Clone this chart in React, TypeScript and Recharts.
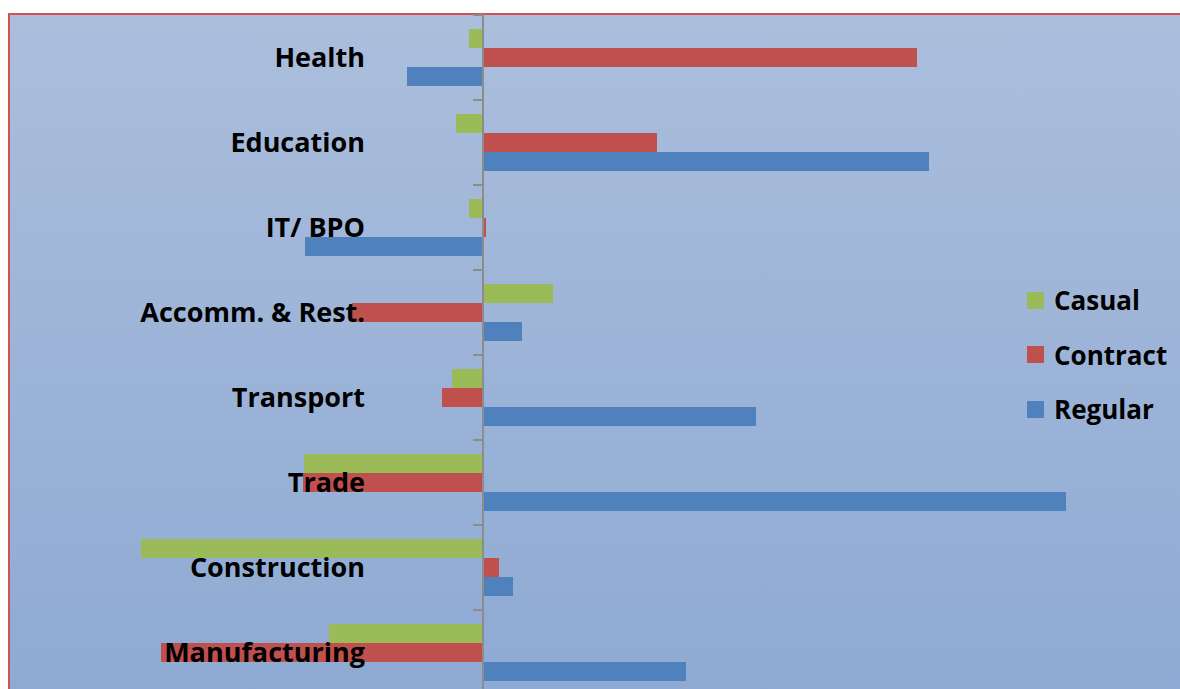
import { BarChart, Bar, XAxis, YAxis, ReferenceLine } from "recharts";

// sectors, top to bottom
const sectors = [
  "Health",
  "Education",
  "IT/ BPO",
  "Accomm. & Rest.",
  "Transport",
  "Trade",
  "Construction",
  "Manufacturing",
];

// values (arbitrary units, 0 at the vertical axis)
const casual = [-1.4, -2.7, -1.4, 7.0, -3.1, -17.9, -34.2, -15.4];
const contract = [43.4, 17.4, 0.3, -13.1, -4.1, -18.0, 1.6, -32.2];
const regular = [-7.6, 44.6, -17.8, 3.9, 27.3, 58.3, 3.0, 20.3];

const series = [
  { key: "casual", name: "Casual", color: "#9bbb59" },
  { key: "contract", name: "Contract", color: "#c0504d" },
  { key: "regular", name: "Regular", color: "#4f81bd" },
];

const rows = sectors.map((sector, i) => ({
  sector,
  casual: casual[i],
  contract: contract[i],
  regular: regular[i],
}));

const X_MIN = -47.3;
const X_MAX = 69.7;

const CHART_W = 1180;
const CHART_H = 700;
const MARGIN = { top: 15, right: 0, bottom: 5, left: 9 };
const Y_AXIS_W = 1;
const PLOT_LEFT = MARGIN.left + Y_AXIS_W;
const PLOT_W = CHART_W - PLOT_LEFT - MARGIN.right;
const PLOT_H = CHART_H - MARGIN.top - MARGIN.bottom;
const BAND = PLOT_H / sectors.length;
const ZERO_X = PLOT_LEFT + ((0 - X_MIN) / (X_MAX - X_MIN)) * PLOT_W;

const FONT = "'Open Sans', 'Liberation Sans', sans-serif";
const AXIS_GRAY = "#8c8c8c";

const SectorTick = (props: any) => {
  const { y, payload } = props;
  const top = y - BAND / 2;
  return (
    <g>
      <line x1={ZERO_X - 10} x2={ZERO_X} y1={top} y2={top} stroke={AXIS_GRAY} strokeWidth={2} />
      <text
        x={365}
        y={y - 1}
        textAnchor="end"
        dominantBaseline="central"
        fontFamily={FONT}
        fontWeight={700}
        fontSize={27}
        fill="#000"
      >
        {payload.value}
      </text>
    </g>
  );
};

export default function App() {
  return (
    <div
      style={{
        position: "fixed",
        left: 0,
        top: 0,
        width: 1180,
        height: 689,
        overflow: "hidden",
        background: "#fff",
      }}
    >
      <div
        style={{
          position: "absolute",
          left: 8,
          top: 13,
          width: 1200,
          height: 700,
          borderTop: "2px solid #d3514e",
          borderLeft: "2px solid #d3514e",
          background: "linear-gradient(to bottom, #abbedc 0%, #8da9d3 100%)",
        }}
      />
      <div style={{ position: "absolute", left: 0, top: 0 }}>
        <BarChart
          width={CHART_W}
          height={CHART_H}
          data={rows}
          layout="vertical"
          margin={MARGIN}
          barGap={0}
          barSize={19}
        >
          <XAxis type="number" domain={[X_MIN, X_MAX]} hide allowDataOverflow />
          {series.map((s) => (
            <Bar key={s.key} dataKey={s.key} name={s.name} fill={s.color} isAnimationActive={false} />
          ))}
          <ReferenceLine x={0} stroke={AXIS_GRAY} strokeWidth={2} />
          <YAxis
            type="category"
            dataKey="sector"
            width={Y_AXIS_W}
            axisLine={false}
            tickLine={false}
            interval={0}
            tick={SectorTick}
          />
        </BarChart>
      </div>
      <div
        style={{
          position: "absolute",
          left: 1027,
          top: 273,
          fontFamily: FONT,
          fontWeight: 700,
          fontSize: 26,
          color: "#000",
        }}
      >
        {series.map((s) => (
          <div key={s.key} style={{ display: "flex", alignItems: "center", height: 54.5 }}>
            <span style={{ width: 17, height: 17, background: s.color, marginRight: 10 }} />
            <span>{s.name}</span>
          </div>
        ))}
      </div>
    </div>
  );
}
